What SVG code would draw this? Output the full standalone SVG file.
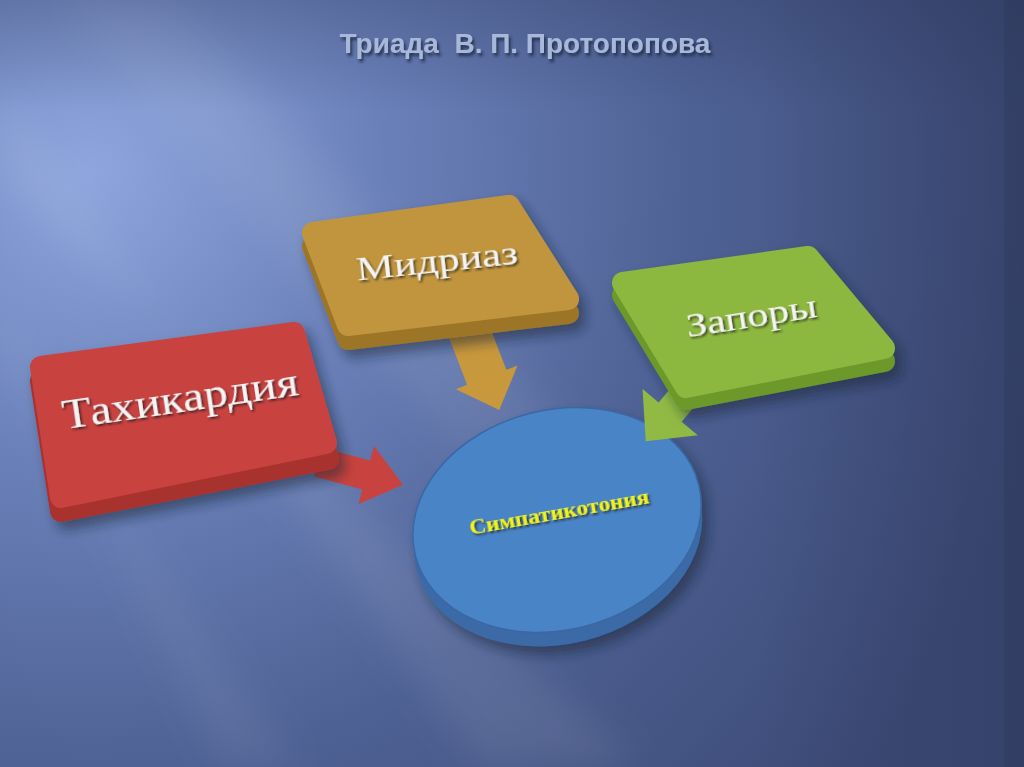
<svg xmlns="http://www.w3.org/2000/svg" width="1024" height="767" viewBox="0 0 1024 767">
<defs>
  <radialGradient id="bg" cx="90" cy="170" r="980" gradientUnits="userSpaceOnUse">
    <stop offset="0" stop-color="#8ea6dd"/>
    <stop offset="0.3" stop-color="#6a80b8"/>
    <stop offset="0.62" stop-color="#4e6194"/>
    <stop offset="1" stop-color="#3c4a76"/>
  </radialGradient>
  <linearGradient id="topdark" x1="0" y1="0" x2="0" y2="1">
    <stop offset="0" stop-color="#2e3a60" stop-opacity="0.3"/>
    <stop offset="1" stop-color="#2e3a60" stop-opacity="0"/>
  </linearGradient>
  <linearGradient id="rightdark" x1="0" y1="0" x2="1" y2="0">
    <stop offset="0" stop-color="#26304f" stop-opacity="0"/>
    <stop offset="1" stop-color="#26304f" stop-opacity="0.3"/>
  </linearGradient>
  <filter id="blur" x="-20%" y="-20%" width="140%" height="140%">
    <feGaussianBlur stdDeviation="18"/>
  </filter>
  <filter id="shadow" x="-20%" y="-20%" width="150%" height="150%">
    <feDropShadow dx="6" dy="8" stdDeviation="6" flood-color="#141a30" flood-opacity="0.5"/>
  </filter>
  <filter id="tshadow" x="-10%" y="-30%" width="120%" height="160%">
    <feDropShadow dx="1.5" dy="2" stdDeviation="1" flood-color="#1a1a1a" flood-opacity="0.8"/>
  </filter>
  <filter id="ttshadow" x="-10%" y="-30%" width="120%" height="160%">
    <feDropShadow dx="2" dy="3" stdDeviation="1.5" flood-color="#1c2640" flood-opacity="0.8"/>
  </filter>
</defs>
<style>
  .title { font-family: "Liberation Sans", Arial, sans-serif; font-weight: bold; font-size: 28px; fill: #a8b8da; }
  .lbl { font-family: "Liberation Serif", "Times New Roman", serif; fill: #f4f4f4; }
  .top { stroke-width: 22; stroke-linejoin: round; }
  .side { stroke-width: 22; stroke-linejoin: round; }
  .center { font-family: "Liberation Serif", "Times New Roman", serif; font-weight: bold; font-size: 20px; fill: #f2f21e; }
</style>

<!-- background -->
<rect x="0" y="0" width="1024" height="767" fill="url(#bg)"/>
<g fill="#ffffff" filter="url(#blur)">
  <polygon points="0,90 0,170 640,767 480,767" opacity="0.08"/>
  <polygon points="60,0 170,0 560,420 470,460" opacity="0.07"/>
  <polygon points="0,290 0,350 300,767 220,767" opacity="0.06"/>
</g>
<rect x="0" y="0" width="1024" height="110" fill="url(#topdark)"/>
<rect x="760" y="0" width="264" height="767" fill="url(#rightdark)"/>
<rect x="1004" y="0" width="20" height="767" fill="#2a3454" opacity="0.3"/>

<text class="title" x="525" y="53" text-anchor="middle" filter="url(#ttshadow)" xml:space="preserve">Триада  В. П. Протопопова</text>

<!-- center node -->
<g id="node-sympathicotonia">
  <g filter="url(#shadow)">
    <ellipse cx="558" cy="534" rx="146" ry="110" transform="rotate(-14 558 534)" fill="#3b6aa6"/>
    <ellipse cx="557" cy="520" rx="146" ry="110" transform="rotate(-14 557 520)" fill="#4a84c6" stroke="#3a68a4" stroke-width="1.5"/>
  </g>
  <text class="center" x="559" y="519" text-anchor="middle" textLength="182" lengthAdjust="spacingAndGlyphs" transform="rotate(-10 559 512)" filter="url(#tshadow)">Симпатикотония</text>
</g>

<!-- connectors -->
<g id="connectors">
  <polygon points="0,-15 50,-15 50,-30 88,0 50,30 50,15 0,15" fill="#c8433f" transform="translate(318,462) rotate(15)"/>
  <polygon points="0,-21 55,-21 55,-33 90,0 55,33 55,21 0,21" fill="#c8983c" transform="translate(467,326) rotate(69)"/>
  <polygon points="0,-15 34,-15 34,-36 72,0 34,36 34,15 0,15" fill="#90ba44" transform="translate(692,386) rotate(130)"/>
</g>

<!-- red node -->
<g id="node-tachycardia">
  <g filter="url(#shadow)">
    <polygon class="side" points="41,381 294,347 328,459 61,511" fill="#a8322e" stroke="#a8322e"/>
    <polygon class="top" points="41,367 294,333 326,443 61,497" fill="#c8433f" stroke="#c8433f"/>
  </g>
  <text class="lbl" x="182" y="412" font-size="42" text-anchor="middle" textLength="238" lengthAdjust="spacingAndGlyphs" transform="rotate(-8.3 182 412)" filter="url(#tshadow)">Тахикардия</text>
</g>

<!-- gold node -->
<g id="node-mydriasis">
  <g filter="url(#shadow)">
    <polygon class="side" points="313,246 509,219 568,313 348,339" fill="#9c7428" stroke="#9c7428"/>
    <polygon class="top" points="313,233 509,206 568,299 348,325" fill="#c0953e" stroke="#c0953e"/>
  </g>
  <text class="lbl" x="438" y="272" font-size="33" text-anchor="middle" textLength="162" lengthAdjust="spacingAndGlyphs" transform="rotate(-6 438 272)" filter="url(#tshadow)">Мидриаз</text>
</g>

<!-- green node -->
<g id="node-constipation">
  <g filter="url(#shadow)">
    <polygon class="side" points="623,295 808,269 884,361 686,399" fill="#6d982a" stroke="#6d982a"/>
    <polygon class="top" points="623,283 808,257 884,348 686,387" fill="#8db840" stroke="#8db840"/>
  </g>
  <text class="lbl" x="753" y="327" font-size="34" text-anchor="middle" textLength="132" lengthAdjust="spacingAndGlyphs" transform="rotate(-9 753 327)" filter="url(#tshadow)">Запоры</text>
</g>
</svg>
